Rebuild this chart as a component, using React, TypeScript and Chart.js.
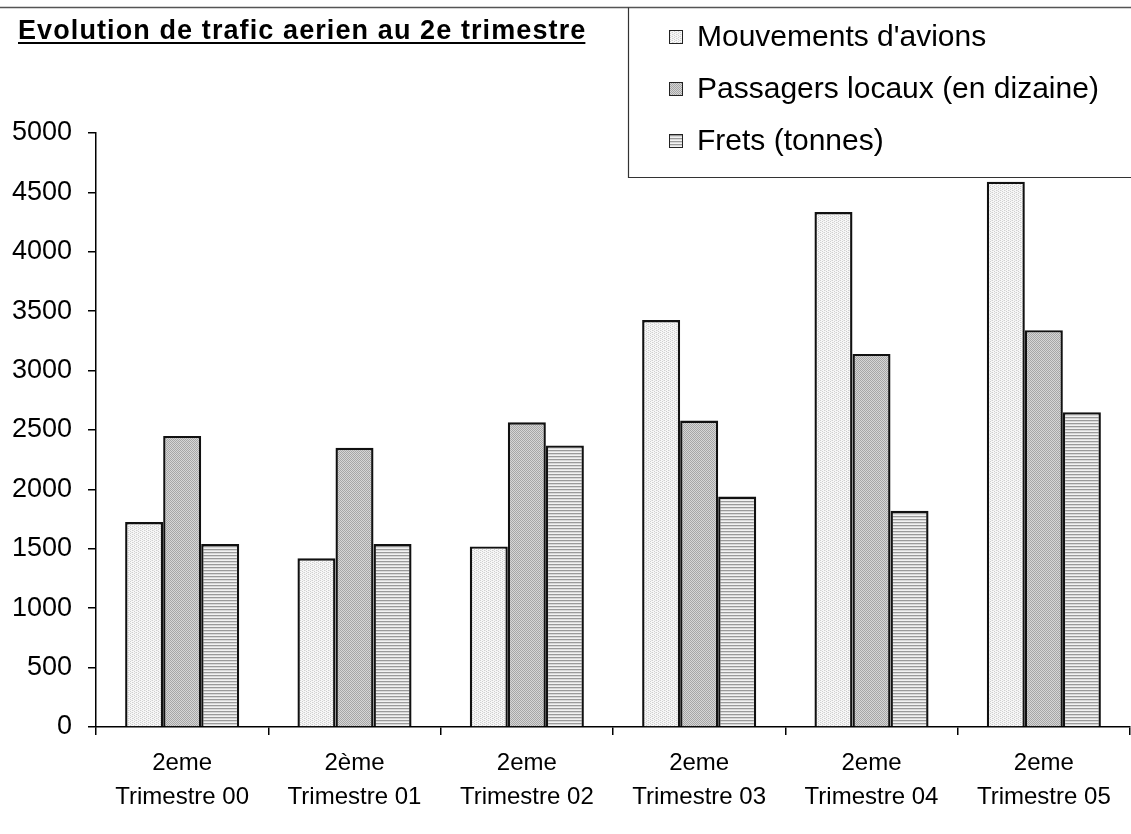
import React, { useEffect, useRef } from 'react';
import { Chart, registerables } from 'chart.js';

Chart.register(...registerables);

const categories: string[][] = [
  ['2eme', 'Trimestre 00'],
  ['2ème', 'Trimestre 01'],
  ['2eme', 'Trimestre 02'],
  ['2eme', 'Trimestre 03'],
  ['2eme', 'Trimestre 04'],
  ['2eme', 'Trimestre 05'],
];
const mouvements = [1725, 1420, 1520, 3425, 4335, 4590];
const passagers = [2450, 2350, 2565, 2580, 3140, 3340];
const frets = [1540, 1540, 2370, 1940, 1820, 2650];
const seriesLabels = ["Mouvements d'avions", 'Passagers locaux (en dizaine)', 'Frets (tonnes)'];
const yMax = 5000;
const yStep = 500;
const titleText = 'Evolution de trafic aerien au 2e trimestre';

const FONT = "'Liberation Sans', Arial, sans-serif";

function makePattern(kind: string): CanvasPattern | string {
  const c = document.createElement('canvas');
  const ctx = c.getContext('2d');
  if (!ctx) return '#ccc';
  if (kind === 'light') {
    c.width = 4; c.height = 4;
    ctx.fillStyle = '#f7f7f7'; ctx.fillRect(0, 0, 4, 4);
    ctx.fillStyle = '#d0d0d0';
    ctx.fillRect(0, 0, 1, 1); ctx.fillRect(2, 1, 1, 1); ctx.fillRect(0, 2, 1, 1); ctx.fillRect(2, 3, 1, 1);
    ctx.fillStyle = '#e4e4e4';
    ctx.fillRect(1, 2, 1, 1); ctx.fillRect(3, 0, 1, 1);
  } else if (kind === 'mid') {
    c.width = 2; c.height = 2;
    ctx.fillStyle = '#d6d6d6'; ctx.fillRect(0, 0, 2, 2);
    ctx.fillStyle = '#a6a6a6';
    ctx.fillRect(0, 0, 1, 1); ctx.fillRect(1, 1, 1, 1);
  } else {
    c.width = 3; c.height = 3;
    ctx.fillStyle = '#f2f2f2'; ctx.fillRect(0, 0, 3, 3);
    ctx.fillStyle = '#9a9a9a'; ctx.fillRect(0, 0, 3, 1);
    ctx.fillStyle = '#d8d8d8'; ctx.fillRect(0, 1, 3, 1);
  }
  const p = ctx.createPattern(c, 'repeat');
  return p || '#ccc';
}

const decorPlugin = {
  id: 'decor',
  afterDraw(chart: any) {
    const ctx: CanvasRenderingContext2D = chart.ctx;
    const W = chart.width;
    ctx.save();
    // outer top border
    ctx.strokeStyle = '#555';
    ctx.lineWidth = 1.5;
    ctx.beginPath();
    ctx.moveTo(0, 7.5);
    ctx.lineTo(W, 7.5);
    ctx.stroke();
    // legend box
    ctx.strokeStyle = '#333';
    ctx.lineWidth = 1.2;
    ctx.beginPath();
    ctx.moveTo(628.5, 7.5);
    ctx.lineTo(628.5, 177.5);
    ctx.lineTo(W, 177.5);
    ctx.stroke();
    // legend items
    ctx.font = `30px ${FONT}`;
    ctx.textBaseline = 'middle';
    ctx.textAlign = 'left';
    chart.data.datasets.forEach((ds: any, i: number) => {
      const cy = 37 + i * 52;
      ctx.fillStyle = ds.backgroundColor;
      ctx.fillRect(669, cy - 6, 13, 13);
      ctx.strokeStyle = '#222';
      ctx.lineWidth = 1;
      ctx.strokeRect(669.5, cy - 6.5, 13, 13);
      ctx.fillStyle = '#000';
      ctx.fillText(ds.label, 697, cy + 1);
    });
    // title
    ctx.font = `bold 27px ${FONT}`;
    (ctx as any).letterSpacing = '1.1px';
    ctx.textBaseline = 'alphabetic';
    ctx.fillStyle = '#000';
    ctx.fillText(titleText, 18, 39);
    const tw = ctx.measureText(titleText).width;
    ctx.fillRect(18, 42, tw - 1, 2);
    ctx.restore();
  },
};

export default function App() {
  const ref = useRef<HTMLCanvasElement | null>(null);
  useEffect(() => {
    document.body.style.margin = '0';
    const canvas = ref.current;
    if (!canvas) return;
    const chart = new Chart(canvas, {
      type: 'bar',
      data: {
        labels: categories,
        datasets: [
          { label: seriesLabels[0], data: mouvements, backgroundColor: makePattern('light') as any, borderColor: '#111', borderWidth: 2.4 },
          { label: seriesLabels[1], data: passagers, backgroundColor: makePattern('mid') as any, borderColor: '#111', borderWidth: 2.4 },
          { label: seriesLabels[2], data: frets, backgroundColor: makePattern('stripe') as any, borderColor: '#111', borderWidth: 2.4 },
        ],
      },
      options: {
        responsive: false,
        animation: false,
        layout: { padding: { top: 133, right: 1, left: 0, bottom: 0 } },
        datasets: { bar: { categoryPercentage: 0.662, barPercentage: 1 } },
        plugins: {
          legend: { display: false },
          title: { display: false },
          tooltip: { enabled: false },
        },
        scales: {
          x: {
            offset: true,
            grid: { display: true, offset: true, drawOnChartArea: false, tickLength: 8, color: '#000', lineWidth: 1.5 },
            border: { display: true, color: '#000', width: 1.5 },
            ticks: { color: '#000', font: { family: FONT, size: 24, lineHeight: 1.4 }, padding: 12, maxRotation: 0, autoSkip: false },
            afterFit: (s: any) => { s.height = 107; },
          },
          y: {
            min: 0,
            max: yMax,
            ticks: { stepSize: yStep, color: '#000', font: { family: FONT, size: 27 }, padding: 16, callback: (v: any) => String(v) },
            grid: { display: true, drawOnChartArea: false, tickLength: 8, color: '#000', lineWidth: 1.5 },
            border: { display: true, color: '#000', width: 1.5 },
            afterFit: (s: any) => { s.width = 96; },
          },
        },
      },
      plugins: [decorPlugin],
    });
    return () => chart.destroy();
  }, []);
  return (
    <div style={{ position: 'absolute', left: 0, top: 0, width: 1131, height: 834, background: '#fff' }}>
      <canvas ref={ref} width={1131} height={834} style={{ display: 'block' }} />
    </div>
  );
}
